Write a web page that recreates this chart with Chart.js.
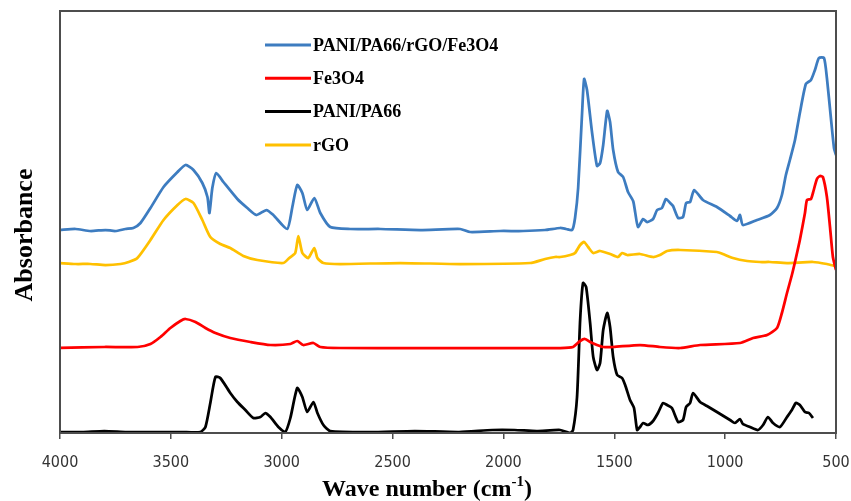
<!DOCTYPE html>
<html>
<head>
<meta charset="utf-8">
<script src="https://cdn.jsdelivr.net/npm/chart.js@4.4.1/dist/chart.umd.min.js"></script>
<style>
  html, body { margin: 0; padding: 0; background: #fff; }
</style>
</head>
<body>
<canvas id="ftirChart" width="851" height="501"></canvas>
<script>
// FTIR spectra, wavenumber in cm-1, absorbance in offset arbitrary units
const compositeWave = [4000, 3930, 3863, 3795, 3750, 3705, 3669, 3637, 3592, 3533, 3470, 3434, 3398, 3358, 3335, 3326, 3313, 3295, 3263, 3200, 3155, 3114, 3069, 3038, 2975, 2952, 2930, 2907, 2885, 2853, 2826, 2781, 2691, 2555, 2375, 2195, 2150, 2015, 1911, 1812, 1744, 1717, 1690, 1677, 1663, 1645, 1636, 1623, 1600, 1578, 1564, 1550, 1532, 1519, 1505, 1483, 1460, 1438, 1415, 1406, 1393, 1370, 1352, 1325, 1307, 1285, 1267, 1248, 1235, 1212, 1190, 1176, 1158, 1140, 1100, 1037, 978, 947, 933, 920, 856, 798, 766, 744, 726, 708, 685, 663, 636, 613, 595, 577, 554, 541, 523, 509, 500];
const compositeAbs = [203, 204, 202, 203, 202, 204, 205, 210, 225, 246, 261, 268, 263, 250, 236, 220, 245, 260, 251, 234, 225, 218, 223, 218, 204, 226, 248, 240, 223, 235, 220, 206, 204, 204, 203, 204, 201, 202, 202, 203, 205, 204, 203, 215, 245, 321, 354, 343, 300, 267, 270, 288, 322, 311, 283, 261, 256, 241, 232, 221, 206, 214, 211, 214, 223, 225, 234, 230, 227, 215, 216, 230, 231, 243, 233, 226, 217, 212, 218, 208, 213, 218, 225, 238, 258, 273, 293, 320, 349, 353, 363, 375, 375, 355, 315, 285, 278];

const fe3o4Wave = [4000, 3800, 3650, 3592, 3547, 3502, 3457, 3434, 3389, 3344, 3299, 3232, 3141, 3051, 2961, 2930, 2903, 2857, 2826, 2736, 2400, 2000, 1744, 1686, 1654, 1632, 1609, 1578, 1550, 1505, 1384, 1294, 1203, 1113, 933, 874, 811, 766, 744, 721, 699, 685, 663, 640, 631, 613, 604, 586, 572, 559, 541, 527, 514, 500];
const fe3o4Abs = [85, 86, 86, 89, 96, 105, 112, 114, 111, 105, 100, 95, 91, 88, 89, 92, 88, 90, 86, 85, 85, 85, 85, 86, 92, 94, 91, 88, 86, 86, 88, 86, 85, 88, 90, 95, 98, 105, 120, 140, 158, 171, 193, 220, 233, 234, 240, 254, 257, 256, 236, 206, 176, 163];

const paniWave = [4000, 3900, 3800, 3700, 3600, 3450, 3367, 3344, 3322, 3299, 3277, 3232, 3200, 3164, 3128, 3096, 3074, 3051, 3015, 2984, 2961, 2930, 2907, 2885, 2857, 2839, 2812, 2781, 2600, 2400, 2200, 2050, 1950, 1850, 1744, 1699, 1686, 1668, 1654, 1641, 1627, 1609, 1595, 1578, 1564, 1550, 1532, 1519, 1505, 1487, 1465, 1451, 1429, 1411, 1397, 1384, 1370, 1348, 1325, 1303, 1280, 1262, 1240, 1212, 1190, 1176, 1158, 1145, 1113, 1082, 1037, 978, 956, 933, 920, 888, 852, 829, 807, 784, 753, 721, 699, 681, 663, 640, 622, 604];
const paniAbs = [1, 1, 2, 1, 1, 1, 1, 6, 30, 56, 55, 40, 31, 23, 15, 16, 20, 16, 6, 1, 15, 45, 36, 21, 31, 20, 8, 2, 1, 2, 1, 3, 3, 2, 3, 0, 3, 36, 113, 150, 146, 110, 76, 63, 70, 103, 120, 106, 76, 58, 55, 48, 33, 25, 3, 6, 10, 8, 12, 20, 30, 28, 25, 11, 13, 26, 30, 40, 31, 27, 21, 13, 10, 14, 9, 6, 3, 8, 16, 10, 6, 16, 23, 30, 28, 21, 20, 15];

const rgoWave = [4000, 3930, 3863, 3795, 3727, 3690, 3651, 3592, 3533, 3470, 3434, 3398, 3358, 3322, 3277, 3232, 3173, 3110, 2993, 2966, 2939, 2925, 2907, 2880, 2853, 2839, 2812, 2736, 2465, 2195, 1879, 1812, 1767, 1744, 1699, 1677, 1654, 1636, 1618, 1595, 1564, 1519, 1483, 1465, 1442, 1384, 1325, 1294, 1262, 1203, 1037, 1010, 965, 901, 843, 798, 721, 604, 541, 505];
const rgoAbs = [170, 169, 169, 168, 169, 171, 175, 193, 213, 228, 234, 230, 213, 196, 189, 185, 177, 173, 170, 175, 180, 197, 180, 175, 185, 175, 170, 169, 170, 169, 170, 174, 176, 176, 178, 180, 188, 191, 186, 180, 182, 179, 176, 180, 178, 179, 176, 178, 182, 183, 181, 179, 175, 172, 171, 171, 170, 171, 169, 167];

const xTicks = [4000, 3500, 3000, 2500, 2000, 1500, 1000, 500];

function toPoints(wave, abs) {
    return wave.map((w, i) => ({ x: w, y: abs[i] }));
}

// legend block drawn inside the plot area
const insideLegend = {
    id: 'insideLegend',
    afterDraw(chart) {
        const ctx = chart.ctx;
        ctx.save();
        ctx.font = 'bold 18px "Liberation Serif", "Times New Roman", serif';
        ctx.textBaseline = 'middle';
        chart.data.datasets.forEach((ds, i) => {
            const y = 45 + i * 33.3;
            ctx.strokeStyle = ds.borderColor;
            ctx.lineWidth = 3;
            ctx.beginPath();
            ctx.moveTo(265, y);
            ctx.lineTo(311, y);
            ctx.stroke();
            ctx.fillStyle = '#000';
            ctx.fillText(ds.label, 313, y + 1);
        });
        ctx.restore();
    }
};

// box around the plot area plus the two axis titles
const frameAndTitles = {
    id: 'frameAndTitles',
    afterDatasetsDraw(chart) {
        const { ctx, chartArea: a } = chart;
        ctx.save();
        ctx.strokeStyle = '#4d4d4d';
        ctx.lineWidth = 2;
        ctx.strokeRect(a.left, a.top, a.right - a.left, a.bottom - a.top);
        ctx.restore();
    },
    afterDraw(chart) {
        const ctx = chart.ctx;
        ctx.save();
        ctx.fillStyle = '#000';
        ctx.textBaseline = 'alphabetic';

        // y title
        ctx.font = 'bold 26px "Liberation Serif", "Times New Roman", serif';
        ctx.translate(32, 235);
        ctx.rotate(-Math.PI / 2);
        ctx.textAlign = 'center';
        ctx.fillText('Absorbance', 0, 0);
        ctx.setTransform(1, 0, 0, 1, 0, 0);

        // x title with superscript
        const main = 'Wave number (cm';
        const sup = '-1';
        const close = ')';
        const big = 'bold 24px "Liberation Serif", "Times New Roman", serif';
        const small = 'bold 15px "Liberation Serif", "Times New Roman", serif';
        ctx.font = big;
        const wMain = ctx.measureText(main).width;
        const wClose = ctx.measureText(close).width;
        ctx.font = small;
        const wSup = ctx.measureText(sup).width;
        let x = 427 - (wMain + wSup + wClose) / 2;
        const base = 496;
        ctx.textAlign = 'left';
        ctx.font = big;
        ctx.fillText(main, x, base);
        x += wMain;
        ctx.font = small;
        ctx.fillText(sup, x, base - 10);
        x += wSup;
        ctx.font = big;
        ctx.fillText(close, x, base);
        ctx.restore();
    }
};

const ctx = document.getElementById('ftirChart').getContext('2d');

new Chart(ctx, {
    type: 'line',
    data: {
        datasets: [{
            label: 'PANI/PA66/rGO/Fe3O4',
            data: toPoints(compositeWave, compositeAbs),
            borderColor: '#3d7cc0'
        }, {
            label: 'Fe3O4',
            data: toPoints(fe3o4Wave, fe3o4Abs),
            borderColor: '#ff0000'
        }, {
            label: 'PANI/PA66',
            data: toPoints(paniWave, paniAbs),
            borderColor: '#000000'
        }, {
            label: 'rGO',
            data: toPoints(rgoWave, rgoAbs),
            borderColor: '#ffc000'
        }]
    },
    options: {
        responsive: false,
        animation: false,
        devicePixelRatio: 1,
        layout: { padding: { top: 11, right: 15, bottom: 0, left: 0 } },
        elements: {
            line: { borderWidth: 2.75, tension: 0.2, fill: false },
            point: { radius: 0 }
        },
        plugins: {
            legend: { display: false },
            tooltip: { enabled: false }
        },
        scales: {
            x: {
                type: 'linear',
                reverse: true,
                min: 500,
                max: 4000,
                afterBuildTicks: (scale) => {
                    scale.ticks = xTicks.map(v => ({ value: v }));
                },
                afterFit: (scale) => {
                    scale.height = 68;
                    scale.paddingLeft = 0;
                    scale.paddingRight = 0;
                },
                grid: {
                    display: true,
                    drawOnChartArea: false,
                    drawTicks: true,
                    tickLength: 6,
                    color: '#4d4d4d',
                    lineWidth: 1.5
                },
                border: { display: false },
                ticks: {
                    maxRotation: 0,
                    padding: 14,
                    color: '#333',
                    font: { family: '"DejaVu Sans Condensed", "DejaVu Sans", sans-serif', size: 16 },
                    callback: (v) => String(v)
                }
            },
            y: {
                min: 0,
                max: 422,
                afterFit: (scale) => { scale.width = 60; },
                grid: { display: false },
                border: { display: false },
                ticks: { display: false }
            }
        }
    },
    plugins: [frameAndTitles, insideLegend]
});
</script>
</body>
</html>
